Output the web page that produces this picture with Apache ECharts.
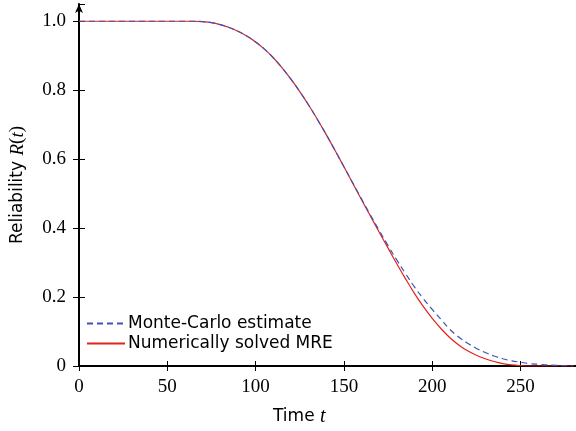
<!DOCTYPE html>
<html><head><meta charset="utf-8">
<script src="https://cdn.jsdelivr.net/npm/echarts@6/dist/echarts.min.js"></script>
<style>html,body{margin:0;padding:0;background:#fff}#c{width:576px;height:431px}</style>
</head><body><div id="c"></div>
<script>
const times = [0,5,10,15,20,25,30,35,40,45,50,55,60,65,70,75,80,85,90,95,100,105,110,115,120,125,130,135,140,145,150,155,160,165,170,175,180,185,190,195,200,205,210,215,220,225,230,235,240,245,250,255,260,265,270,275,280];
const mcEstimate = [1,1,1,1,1,1,1,1,1,1,1,1,1,1,0.999,0.996,0.990,0.982,0.971,0.957,0.940,0.919,0.894,0.865,0.832,0.796,0.757,0.715,0.671,0.625,0.578,0.531,0.484,0.438,0.393,0.349,0.307,0.267,0.229,0.195,0.164,0.135,0.106,0.084,0.066,0.051,0.039,0.029,0.021,0.015,0.011,0.007,0.005,0.003,0.002,0.001,0.0];
const mreSolution = [1,1,1,1,1,1,1,1,1,1,1,1,1,1,0.999,0.996,0.990,0.982,0.971,0.957,0.940,0.919,0.894,0.865,0.832,0.796,0.757,0.715,0.671,0.625,0.578,0.530,0.482,0.435,0.388,0.342,0.296,0.252,0.210,0.172,0.138,0.108,0.082,0.061,0.044,0.031,0.021,0.013,0.007,0.003,0.001,0,0,0,0,0,0];
const xTicks = [0,50,100,150,200,250];
const yTicks = [0,0.2,0.4,0.6,0.8,1.0];
const seriesNames = ['Monte-Carlo estimate','Numerically solved MRE'];

const chart = echarts.init(document.getElementById('c'), null, {renderer:'canvas'});
const XMAX = 281.4, YMAX = 1.05;
const gridBox = {left:79, top:4, right:0, bottom:65};
const serif = "'Liberation Serif', 'Times New Roman', Times, serif";
const sans = "'DejaVu Sans', sans-serif";
function pair(arr){ return times.map((t,i)=>[t,arr[i]]); }
chart.setOption({
  animation:false,
  backgroundColor:'#fff',
  textStyle:{fontFamily:serif},
  grid:[Object.assign({}, gridBox), Object.assign({}, gridBox)],
  xAxis:[{
    type:'value', gridIndex:0, min:0, max:XMAX, interval:50,
    axisLine:{show:true, onZero:false, lineStyle:{color:'#000', width:2}},
    axisTick:{show:true, length:5, lineStyle:{color:'#000', width:1}},
    axisLabel:{color:'#000', fontFamily:serif, fontSize:19, margin:12, showMaxLabel:false,
      formatter:v=> xTicks.includes(v) ? String(v) : ''},
    splitLine:{show:false}
  },{
    type:'value', gridIndex:1, min:0, max:XMAX, interval:50,
    axisLine:{show:false}, axisTick:{show:true, inside:true, length:5, lineStyle:{color:'#000', width:1}},
    axisLabel:{show:false}, splitLine:{show:false}
  }],
  yAxis:[{
    type:'value', gridIndex:0, min:0, max:YMAX, interval:0.2,
    axisLine:{show:true, onZero:false, symbol:['none','arrow'], symbolSize:[6,9], symbolOffset:[0,0], lineStyle:{color:'#000', width:2}},
    axisTick:{show:true, length:6, lineStyle:{color:'#000', width:1}},
    axisLabel:{color:'#000', fontFamily:serif, fontSize:19, margin:13, showMaxLabel:false,
      formatter:v=>{ const f = yTicks.find(y=>Math.abs(y-v)<1e-9); return f===undefined ? '' : (f===0 ? '0' : f.toFixed(1)); }},
    splitLine:{show:false},
    name:'{s|Reliability }{i|R}{p|(}{i|t}{p|)}', nameLocation:'middle', nameGap:52,
    nameTextStyle:{color:'#000', fontFamily:sans, fontSize:17,
      rich:{s:{fontFamily:sans, fontSize:17, color:'#000'},
            i:{fontFamily:serif, fontStyle:'italic', fontSize:19, color:'#000'},
            p:{fontFamily:serif, fontSize:19, color:'#000'}}}
  },{
    type:'value', gridIndex:1, min:0, max:YMAX, interval:0.2,
    axisLine:{show:false}, axisTick:{show:true, inside:true, length:6, lineStyle:{color:'#000', width:1}},
    axisLabel:{show:false}, splitLine:{show:false}
  }],
  legend:{
    orient:'vertical', left:81, top:310, itemGap:3, itemWidth:38, itemHeight:12,
    itemStyle:{opacity:0},
    textStyle:{color:'#000', fontFamily:sans, fontSize:17, padding:[0,0,0,-2]},
    data:seriesNames
  },
  graphic:[{
    type:'text', left:273, top:407,
    style:{text:'{s|Time }{i|t}', fill:'#000',
      rich:{s:{fontFamily:sans, fontSize:17, fill:'#000'},
            i:{fontFamily:serif, fontStyle:'italic', fontSize:20, fill:'#000'}}}
  }],
  series:[{
    name:seriesNames[0], type:'line', xAxisIndex:0, yAxisIndex:0, symbol:'none', smooth:0.4,
    data:pair(mcEstimate), z:3,
    lineStyle:{color:'#4052b8', width:1.2, type:[6,4]}, itemStyle:{color:'#4052b8'}
  },{
    name:seriesNames[1], type:'line', xAxisIndex:0, yAxisIndex:0, symbol:'none', smooth:0.4,
    data:pair(mreSolution), z:2,
    lineStyle:{color:'#e2231a', width:1.2}, itemStyle:{color:'#e2231a'}
  }]
});
</script></body></html>
